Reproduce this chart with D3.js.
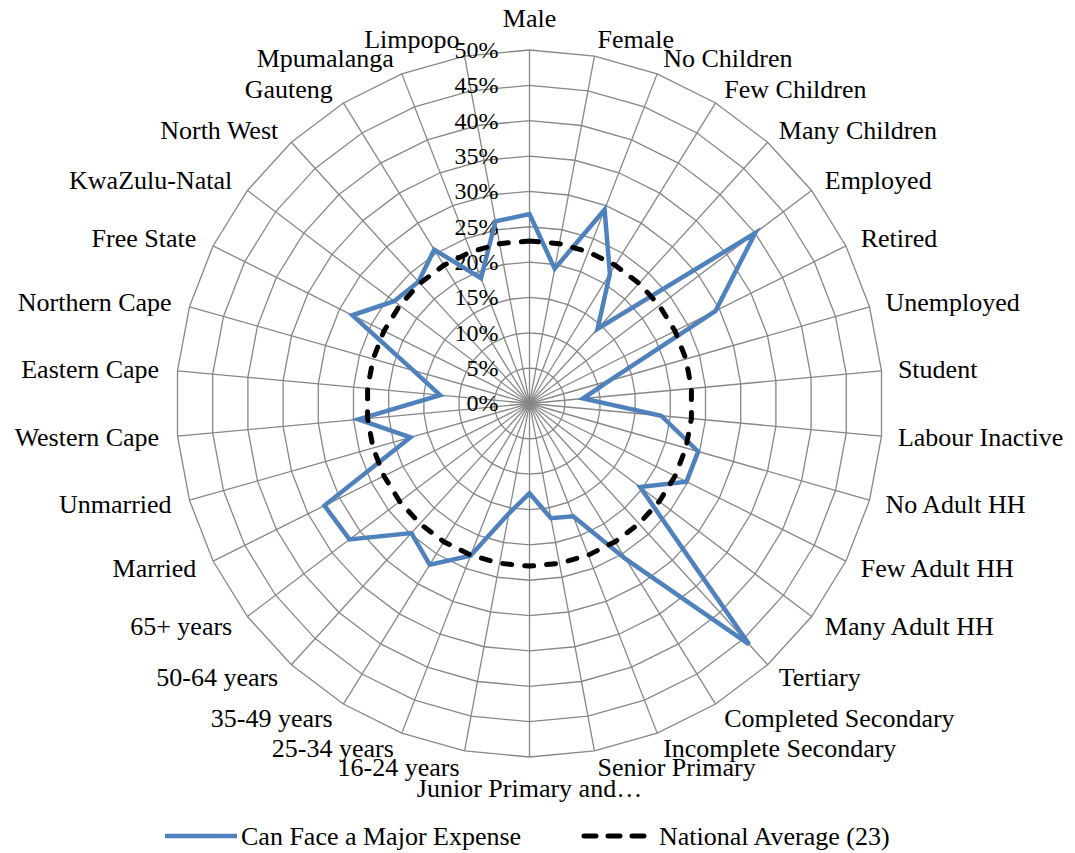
<!doctype html>
<html lang="en">
<head>
<meta charset="utf-8">
<title>Can Face a Major Expense</title>
<script src="https://cdn.jsdelivr.net/npm/d3@7"></script>
<style>
  body { margin: 0; background: #fff; }
  svg text { font-family: "Times New Roman", "Liberation Serif", serif; fill: #000; }
</style>
</head>
<body>
<svg id="chart" width="1075" height="853"></svg>
<script>
// categories, clockwise from the top
var categories = ["Male", "Female", "No Children", "Few Children", "Many Children",
  "Employed", "Retired", "Unemployed", "Student", "Labour Inactive",
  "No Adult HH", "Few Adult HH", "Many Adult HH", "Tertiary",
  "Completed Secondary", "Incomplete Secondary", "Senior Primary",
  "Junior Primary and\u2026", "16-24 years", "25-34 years", "35-49 years",
  "50-64 years", "65+ years", "Married", "Unmarried", "Western Cape",
  "Eastern Cape", "Northern Cape", "Free State", "KwaZulu-Natal",
  "North West", "Gauteng", "Mpumalanga", "Limpopo"];

// % who can face a major expense
var majorExpense = [26.8, 19.4, 29.4, 21.6, 14.3,
  40.0, 29.4, 11.7, 7.6, 18.7,
  24.8, 24.8, 19.6, 46.1,
  25.9, 17.1, 16.5,
  12.7, 15.8, 23.1, 26.8,
  24.8, 31.9, 32.4, 17.5, 24.3,
  12.7, 17.1, 28.0, 24.0,
  23.3, 25.6, 19.0, 26.2];

var nationalAverage = 23;
var ticks = [0, 5, 10, 15, 20, 25, 30, 35, 40, 45, 50];

var seriesNames = ["Can Face a Major Expense", "National Average (23)"];

var cx = 529.5, cy = 403.5;
var svg = d3.select("#chart");
var g = svg.append("g").attr("transform", "translate(" + cx + "," + cy + ")");

var r = d3.scaleLinear().domain([0, 50]).range([0, 353.5]);
var angle = d3.scaleLinear().domain([0, categories.length]).range([0, 2 * Math.PI]);
var idx = d3.range(categories.length);

function px(i, v) { return r(v) * Math.sin(angle(i)); }
function py(i, v) { return -r(v) * Math.cos(angle(i)); }

var gridColor = "#878787";

// polygon rings
ticks.slice(1).forEach(function (t) {
  g.append("path")
    .attr("d", d3.lineRadial().angle(function (i) { return angle(i); })
      .radius(r(t)).curve(d3.curveLinearClosed)(idx))
    .attr("fill", "none")
    .attr("stroke", gridColor)
    .attr("stroke-width", 1.3);
});

// spokes
g.selectAll(".spoke").data(idx).enter().append("line")
  .attr("x1", 0).attr("y1", 0)
  .attr("x2", function (i) { return px(i, 50); })
  .attr("y2", function (i) { return py(i, 50); })
  .attr("stroke", gridColor)
  .attr("stroke-width", 1.3);

// value axis labels
g.selectAll(".tick").data(ticks).enter().append("text")
  .attr("x", -31)
  .attr("y", function (t) { return -r(t); })
  .attr("dy", "0.33em")
  .attr("text-anchor", "end")
  .style("font-size", "24px")
  .text(function (t) { return t + "%"; });

// category labels
var L = 370;
g.selectAll(".cat").data(idx).enter().append("text")
  .attr("x", function (i) {
    var s = Math.sin(angle(i));
    return L * s + (s < -0.01 ? -2 : 0);
  })
  .attr("y", function (i) {
    var c = Math.cos(angle(i));
    var y = -L * c;
    if (c > 0.999) return y - 7;
    if (c < -0.999) return y + 23;
    return y + 8.6;
  })
  .attr("text-anchor", function (i) {
    var s = Math.sin(angle(i));
    return s > 0.01 ? "start" : (s < -0.01 ? "end" : "middle");
  })
  .style("font-size", "26px")
  .text(function (i) { return categories[i]; });

// series
var line = d3.lineRadial()
  .angle(function (d, i) { return angle(i); })
  .radius(function (d) { return r(d); })
  .curve(d3.curveLinearClosed);

g.append("path")
  .attr("d", line(majorExpense))
  .attr("fill", "none")
  .attr("stroke", "#4F81BD")
  .attr("stroke-width", 4.5)
  .attr("stroke-linejoin", "miter");

g.append("path")
  .attr("d", line(idx.map(function () { return nationalAverage; })))
  .attr("fill", "none")
  .attr("stroke", "#000")
  .attr("stroke-width", 5)
  .attr("stroke-linecap", "round")
  .attr("stroke-dasharray", "9,13");

// legend
var legend = svg.append("g");
legend.append("line")
  .attr("x1", 165).attr("x2", 237).attr("y1", 836).attr("y2", 836)
  .attr("stroke", "#4F81BD").attr("stroke-width", 4.5);
legend.append("text").attr("x", 241).attr("y", 845)
  .style("font-size", "26px").text(seriesNames[0]);
legend.append("line")
  .attr("x1", 584).attr("x2", 644).attr("y1", 836).attr("y2", 836)
  .attr("stroke", "#000").attr("stroke-width", 5)
  .attr("stroke-linecap", "round").attr("stroke-dasharray", "12,12");
legend.append("text").attr("x", 659).attr("y", 845)
  .style("font-size", "26px").text(seriesNames[1]);
</script>
</body>
</html>
